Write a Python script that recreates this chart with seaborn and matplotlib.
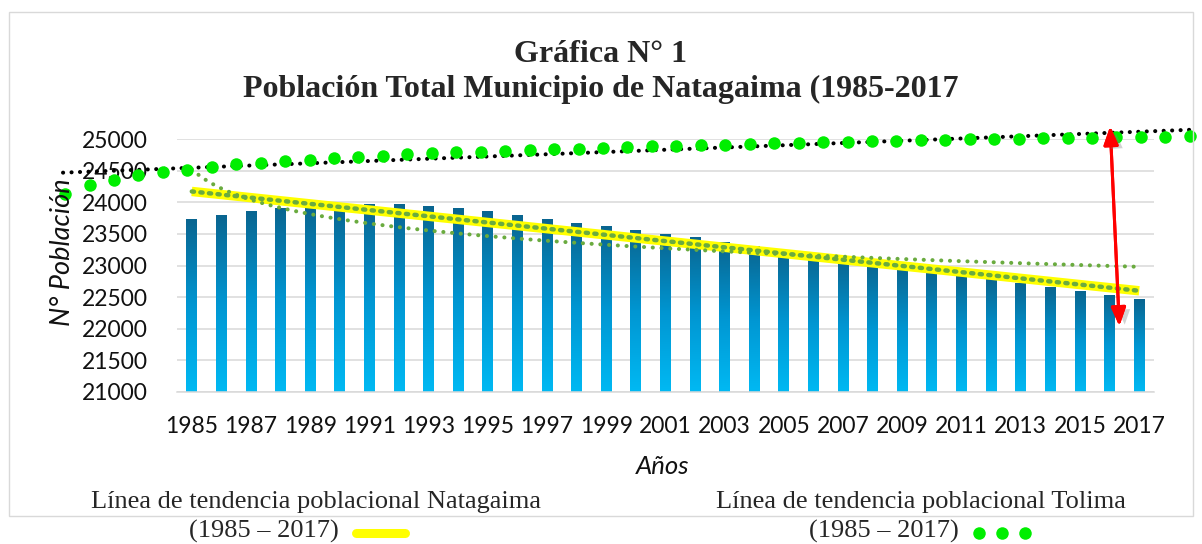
import numpy as np
import pandas as pd
import matplotlib
matplotlib.use("Agg")
import matplotlib.pyplot as plt
import seaborn as sns
from matplotlib.lines import Line2D
from matplotlib.patches import Rectangle
import matplotlib.patheffects as pe
from matplotlib.colors import LinearSegmentedColormap

# ---------------- data ----------------
years = list(range(1985, 2018))
natagaima = [23730, 23794, 23852, 23900, 23935, 23952, 23960, 23958, 23934, 23907,
             23860, 23797, 23735, 23670, 23611, 23560, 23497, 23435, 23370, 23297,
             23232, 23167, 23102, 23037, 22972, 22907, 22842, 22777, 22713, 22650,
             22582, 22528, 22458]
tolima_trend = [24130, 24268, 24352, 24426, 24483, 24515, 24555, 24597, 24625, 24650,
                24668, 24695, 24711, 24736, 24758, 24774, 24790, 24799, 24810, 24826,
                24837, 24847, 24858, 24869, 24885, 24889, 24900, 24910, 24921, 24932,
                24937, 24948, 24957, 24964, 24973, 24979, 24984, 24995, 25000, 25005,
                25011, 25016, 25021, 25027, 25032, 25036, 25047]
y_ticks = list(range(21000, 25001, 500))
x_tick_labels = [str(y) for y in years[::2]]
title_lines = ["Gráfica N° 1", "Población Total Municipio de Natagaima (1985-2017"]
y_label = "N° Población"
x_label = "Años"
legend_natagaima = "Línea de tendencia poblacional Natagaima"
legend_tolima = "Línea de tendencia poblacional Tolima"
legend_period = "(1985 – 2017)"

# ---------------- layout ----------------
W, H = 1202, 544
def fx(px):
    return px / W
def fy(py):
    return 1 - py / H

sns.set_style("white")
plt.rcParams["font.family"] = ["Lato", "DejaVu Sans"]
plt.rcParams["lines.scale_dashes"] = False

fig = plt.figure(figsize=(W / 100, H / 100), dpi=100)
fig.add_artist(Rectangle((fx(9), fy(516)), fx(1193) - fx(9), fy(12) - fy(516),
                         transform=fig.transFigure, fill=False, ec="#D9D9D9", lw=1.0))

ax = fig.add_axes([fx(177), fy(392), fx(1154) - fx(177), fy(139) - fy(392)])

df = pd.DataFrame({"year": [str(y) for y in years], "pop": natagaima})
sns.barplot(data=df, x="year", y="pop", ax=ax, width=0.37, color="#0090CC",
            saturation=1, zorder=2)

cmap = LinearSegmentedColormap.from_list("bar", ["#00B9F3", "#0096D2", "#0A6590"])
grad = np.linspace(0, 1, 256).reshape(-1, 1)
for p in list(ax.patches):
    x0, w, h = p.get_x(), p.get_width(), p.get_height()
    p.set_facecolor("none")
    p.set_edgecolor("none")
    ax.imshow(grad, extent=[x0, x0 + w, y_ticks[0], h], origin="lower", cmap=cmap,
              aspect="auto", zorder=2, interpolation="bilinear")

idx = np.arange(len(years))

# linear trend (Natagaima) highlighted in yellow
lin = np.polyfit(idx, natagaima, 1)
ends = idx[[0, -1]]
ax.plot(ends, np.polyval(lin, ends), color="#FFFF00", lw=6.8, solid_capstyle="butt",
        zorder=3, clip_on=False)
ax.plot(ends, np.polyval(lin, ends), color="#6AAB3F", lw=3.2, ls=(0, (1.6, 4.6)),
        dash_capstyle="round", zorder=4, clip_on=False)

# logarithmic trend
lg = np.polyfit(np.log(idx + 1), natagaima, 1)
xs = np.linspace(0, len(years) - 1, 300)
ax.plot(xs, np.polyval(lg, np.log(xs + 1)), color="#6AAB3F", lw=2.9,
        ls=(0, (0.1, 6.2)), dash_capstyle="round", zorder=4, clip_on=False)

# Tolima trend dots + linear fit
tol_x = np.linspace(-4.28, 33.71, len(tolima_trend))
bl = np.polyfit(tol_x, tolima_trend, 1)
bx = np.array([tol_x[0] - 0.07, tol_x[-1] + 0.25])
ax.plot(bx, np.polyval(bl, bx), color="black", lw=2.9, ls=(0, (0.1, 6.0)),
        dash_capstyle="round", zorder=4, clip_on=False)
ax.plot(tol_x, tolima_trend, "o", ms=9.0, color="#00EE00", mec="none",
        clip_on=False, zorder=5)

# red double arrow
ax.annotate("", xy=(31.02, 25200), xytext=(31.33, 22044),
            arrowprops=dict(arrowstyle="<|-|>,head_length=0.55,head_width=0.22",
                            color="#FF0000", lw=2.2, shrinkA=0, shrinkB=0,
                            mutation_scale=20,
                            path_effects=[pe.withSimplePatchShadow(offset=(4, -2),
                                                                   shadow_rgbFace="#808080",
                                                                   alpha=0.35),
                                          pe.Normal()]),
            annotation_clip=False, zorder=6)

# axes styling
ax.set_xlim(-0.5, len(years) - 0.5)
ax.set_ylim(y_ticks[0], y_ticks[-1])
ax.set_yticks(y_ticks)
ax.set_yticklabels([str(v) for v in y_ticks])
ax.set_xticks(idx[::2])
ax.set_xticklabels(x_tick_labels)
ax.tick_params(axis="both", length=0, labelsize=16.5, colors="#111111")
ax.tick_params(axis="y", pad=21)
ax.tick_params(axis="x", pad=17)
ax.yaxis.grid(True, color="#D9D9D9", lw=1.1)
ax.set_axisbelow(True)
for s in ["left", "right", "top"]:
    ax.spines[s].set_visible(False)
ax.spines["bottom"].set_color("#D9D9D9")
ax.spines["bottom"].set_linewidth(1.1)
ax.set_xlabel("")
ax.set_ylabel("")

fig.text(fx(62), fy(252), y_label, rotation=90, ha="center", va="center",
         fontsize=19.5, style="italic", color="#111111")
fig.text(fx(663), fy(467), x_label, ha="center", va="center",
         fontsize=18.5, style="italic", color="#111111")

# title
serif = ["Liberation Serif", "DejaVu Serif"]
fig.text(0.5, fy(62), title_lines[0], ha="center", va="baseline", fontsize=23,
         fontweight="bold", family=serif)
fig.text(0.5, fy(97), title_lines[1], ha="center", va="baseline", fontsize=23,
         fontweight="bold", family=serif)

# bottom legend texts
fig.text(fx(316), fy(508), legend_natagaima, ha="center", va="baseline",
         fontsize=19, family=serif)
fig.text(fx(921), fy(508), legend_tolima, ha="center", va="baseline",
         fontsize=19, family=serif)
fig.text(fx(264), fy(538), legend_period, ha="center", va="baseline",
         fontsize=19, family=serif)
fig.text(fx(884), fy(538), legend_period, ha="center", va="baseline",
         fontsize=19, family=serif)
fig.add_artist(Line2D([fx(356), fx(405)], [fy(533), fy(533)], transform=fig.transFigure,
                      color="#FFFF00", lw=6.5, solid_capstyle="round"))
fig.add_artist(Line2D([fx(979), fx(1002), fx(1025)], [fy(533)] * 3,
                      transform=fig.transFigure, ls="none", marker="o", ms=9.0,
                      color="#00EE00", mec="none"))

fig.savefig("out.png", dpi=100)
